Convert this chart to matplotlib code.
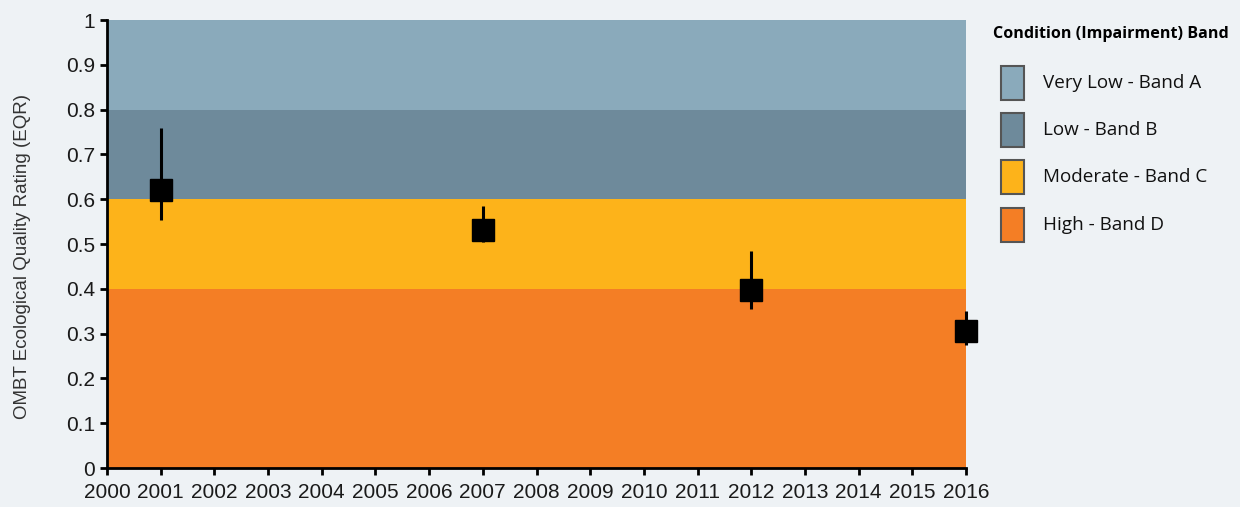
import numpy as np
import matplotlib.pyplot as plt
from matplotlib.patches import Rectangle

# Datos
years = [2001, 2007, 2012, 2016]
eqr = [0.62, 0.531, 0.397, 0.306]
err_low = [0.553, 0.504, 0.355, 0.275]
err_high = [0.759, 0.585, 0.484, 0.350]

band_names = ['Very Low - Band A', 'Low - Band B', 'Moderate - Band C', 'High - Band D']
band_low = [0.8, 0.6, 0.4, 0.0]
band_high = [1.0, 0.8, 0.6, 0.4]
band_colors = ['#8aaabb', '#6e8a9b', '#fdb31a', '#f47e25']

bg = '#eef2f5'
plt.rcParams['font.family'] = ['Liberation Sans', 'DejaVu Sans']

W, H = 1240, 507
fig = plt.figure(figsize=(W / 100, H / 100), dpi=100, facecolor=bg)
ax = fig.add_axes([107 / W, 1 - 468 / H, 859 / W, 448 / H])
ax.set_facecolor(bg)

# bandas de condición
for lo, hi, c in zip(band_low, band_high, band_colors):
    ax.axhspan(lo, hi, color=c, lw=0, zorder=0)

yerr = [np.array(eqr) - np.array(err_low), np.array(err_high) - np.array(eqr)]
ax.errorbar(years, eqr, yerr=yerr, fmt='s', color='black', ms=16, elinewidth=2.2,
            capsize=0, zorder=3, clip_on=False)

ax.set_xlim(2000, 2016)
ax.set_ylim(0, 1)
ax.set_xticks(range(2000, 2017))
ax.set_yticks(np.arange(0, 1.01, 0.1))
ax.set_yticklabels(['0', '0.1', '0.2', '0.3', '0.4', '0.5', '0.6', '0.7', '0.8', '0.9', '1'])
ax.tick_params(labelsize=15, length=5, width=2, direction='out', color='black',
               labelcolor='#1a1a1a')
ax.tick_params(axis='x', pad=6)
for s in ['top', 'right']:
    ax.spines[s].set_visible(False)
for s in ['left', 'bottom']:
    ax.spines[s].set_linewidth(2)
ax.set_ylabel('OMBT Ecological Quality Rating (EQR)', fontsize=13.5, color='#333333')
ax.yaxis.set_label_coords((31 - 107) / 859, 0.471)

# leyenda dibujada a mano
fig.text(993 / W, 1 - 34 / H, 'Condition (Impairment) Band', fontsize=11.6,
         fontweight='bold', family='Open Sans', va='center', ha='left')
tops = [66, 113, 160, 208]
for top, c, name in zip(tops, band_colors, band_names):
    fig.add_artist(Rectangle((1001 / W, 1 - (top + 34) / H), 23 / W, 34 / H,
                             transform=fig.transFigure, facecolor=c,
                             edgecolor='#555555', lw=1.5))
    fig.text(1043 / W, 1 - (top + 17) / H, name, fontsize=13.6, family='Open Sans',
             va='center', ha='left', color='#111111')

fig.savefig('out.png', dpi=100, facecolor=bg)
